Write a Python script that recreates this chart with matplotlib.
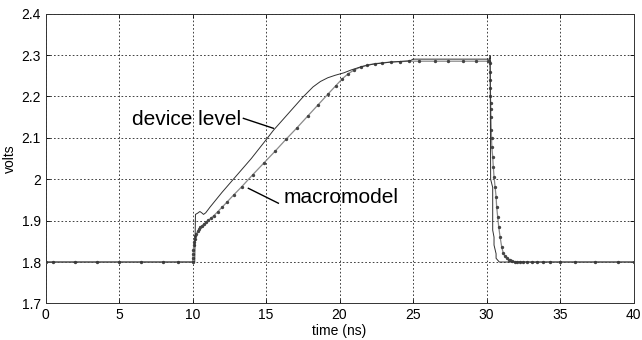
import numpy as np
import matplotlib.pyplot as plt
from matplotlib.ticker import FuncFormatter

plt.rcParams['font.family'] = ['Liberation Sans', 'DejaVu Sans']

# device level transient (time in ns, volts)
dev_t = [0, 10.15, 10.2, 10.35, 10.5, 10.62, 10.75, 10.9, 11.2, 12.0, 13.0,
         14.0, 15.0, 15.5, 16.5, 17.5, 18.2, 18.7, 19.2, 19.7, 20.3, 20.8, 21.5,
         22.3, 23.5, 24.8, 25.0, 30.22, 30.25, 30.28, 30.42, 30.42, 30.51, 30.51,
         30.65, 30.65, 30.87, 40.0]
dev_v = [1.8, 1.8, 1.915, 1.918, 1.922, 1.919, 1.915, 1.919, 1.933, 1.968, 2.009,
         2.05, 2.095, 2.118, 2.158, 2.198, 2.223, 2.236, 2.245, 2.251, 2.257, 2.264, 2.272,
         2.278, 2.283, 2.286, 2.29, 2.29, 2.298, 2.0, 1.98, 1.877, 1.86, 1.841,
         1.82, 1.809, 1.8, 1.8]

# macromodel transient, one entry per simulator time point
mac_t = [0, 0.5, 2.0, 3.5, 5.0, 6.5, 8.0, 9.0, 10.0,
         10.02, 10.04, 10.06, 10.08, 10.1, 10.14, 10.2, 10.27, 10.35, 10.44, 10.54,
         10.65, 10.78, 10.92, 11.08, 11.25, 11.45, 11.7, 12.0, 12.35, 12.8,
         13.35, 14.1, 14.85, 15.6, 16.35, 17.1, 17.85, 18.55, 19.2, 19.75, 20.2,
         20.6, 21.0, 21.45, 21.9, 22.4, 22.9, 23.5, 24.1, 24.7, 25.4, 26.5, 27.4,
         28.4, 29.3, 30.1,
         30.2, 30.22, 30.24, 30.25, 30.26, 30.27, 30.28, 30.29, 30.3, 30.32, 30.34,
         30.36, 30.42, 30.46, 30.51, 30.58, 30.65, 30.69, 30.76, 30.83, 30.92, 31.03,
         31.14, 31.25, 31.37, 31.5, 31.6, 31.75, 31.94, 32.1, 32.28, 32.5, 32.73,
         33.07, 33.4, 33.86, 34.3, 35.0, 36.0, 37.4, 38.97, 40.0]
mac_v = [1.8, 1.8, 1.8, 1.8, 1.8, 1.8, 1.8, 1.8, 1.8,
         1.81, 1.82, 1.83, 1.84, 1.848, 1.856, 1.862, 1.868, 1.874, 1.879, 1.884,
         1.888, 1.892, 1.896, 1.901, 1.906, 1.912, 1.921, 1.932, 1.945, 1.962,
         1.982, 2.011, 2.039, 2.067, 2.096, 2.124, 2.153, 2.180, 2.205, 2.226, 2.243,
         2.255, 2.264, 2.271, 2.276, 2.279, 2.281, 2.283, 2.284, 2.285, 2.285, 2.285, 2.285,
         2.285, 2.285, 2.285,
         2.286, 2.28, 2.26, 2.24, 2.22, 2.2, 2.185, 2.17, 2.15, 2.12, 2.1,
         2.078, 2.054, 2.030, 2.006, 1.982, 1.958, 1.933, 1.909, 1.885, 1.861, 1.837,
         1.821, 1.814, 1.809, 1.806, 1.805, 1.803, 1.801, 1.8, 1.8, 1.8, 1.8,
         1.8, 1.8, 1.8, 1.8, 1.8, 1.8, 1.8, 1.8, 1.8]

fig = plt.figure(figsize=(6.42, 3.40), dpi=100)
ax = fig.add_axes([0.0709, 0.1076, 0.9159, 0.8524])

ax.plot(mac_t, mac_v, color='#8a8a8a', lw=0.9, marker='.', ms=2.8,
        mfc='#454545', mec='#454545', zorder=3)
ax.plot(dev_t, dev_v, color='#303030', lw=0.7, zorder=4)

ax.set_xlim(0, 40)
ax.set_ylim(1.7, 2.4)
ax.set_xticks(np.arange(0, 41, 5))
ax.set_yticks(np.arange(1.7, 2.41, 0.1))
ax.yaxis.set_major_formatter(FuncFormatter(lambda v, p: '%g' % round(v, 2)))
ax.grid(True, color='#222222', linestyle=(0, (2, 2.5)), lw=0.6)
ax.tick_params(direction='in', length=3, top=True, right=True, labelsize=10,
               colors='black', width=0.6)
for s in ax.spines.values():
    s.set_linewidth(0.7)
    s.set_color('#333333')

ax.set_xlabel('time (ns)', fontsize=10, labelpad=1)
ax.set_ylabel('volts', fontsize=10, labelpad=3)

# curve annotations with leader lines
ax.text(5.86, 2.145, 'device level', fontsize=15, va='center', ha='left')
ax.plot([13.46, 15.5], [2.147, 2.123], color='black', lw=1.0)
ax.text(16.16, 1.955, 'macromodel', fontsize=15, va='center', ha='left')
ax.plot([13.8, 15.84], [1.978, 1.942], color='black', lw=1.0)

fig.savefig('out.png', dpi=100)
